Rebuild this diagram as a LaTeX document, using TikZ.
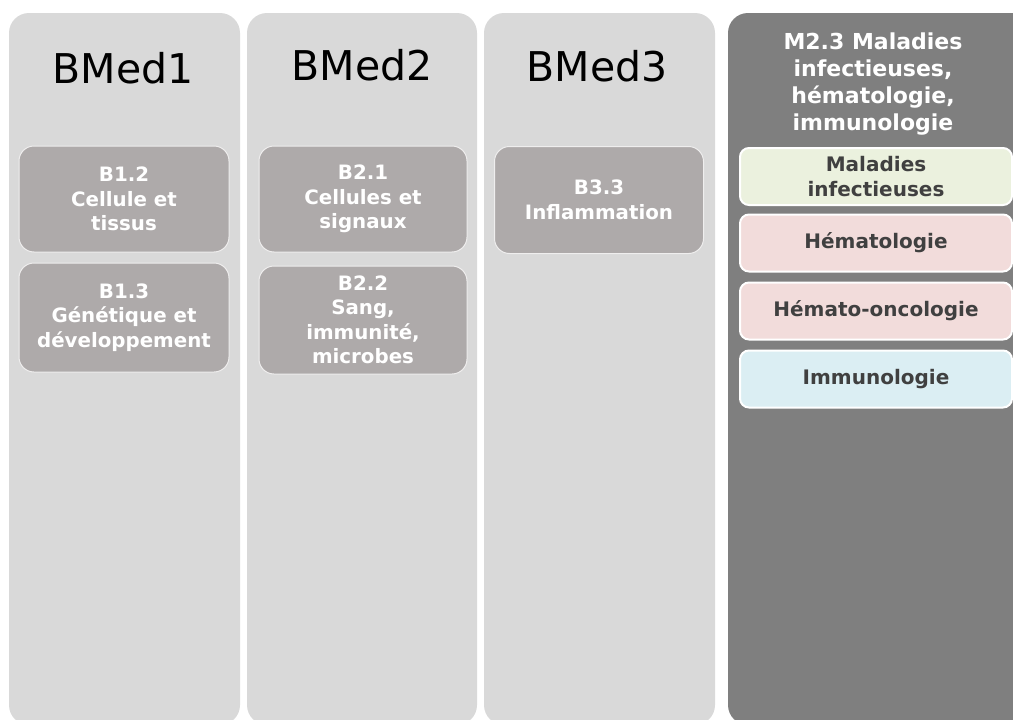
\documentclass[tikz,border=0pt]{standalone}
\usepackage{fontspec}
\setmainfont{DejaVu Sans}
\definecolor{colfill}{HTML}{D9D9D9}
\definecolor{colfilldark}{HTML}{7F7F7F}
\definecolor{boxfill}{HTML}{AEAAAA}
\definecolor{greenfill}{HTML}{EBF1DE}
\definecolor{pinkfill}{HTML}{F2DCDB}
\definecolor{bluefill}{HTML}{DBEEF3}
\definecolor{darktext}{HTML}{404040}
\tikzset{
  column/.style={fill=#1, draw=none, rounded corners=20pt, inner sep=0pt, minimum height=712pt},
  coltitle/.style={font=\fontsize{41}{48}\selectfont, text=black, anchor=base, inner sep=0pt},
  bbox/.style={fill=boxfill, draw=white!80!boxfill, line width=1pt, rounded corners=15pt,
    minimum width=210pt, align=center, text=white, inner sep=0pt,
    font=\fontsize{19.8}{24.5}\selectfont\bfseries},
  mbox/.style={fill=#1, draw=white, line width=2pt, rounded corners=9pt,
    minimum width=272pt, minimum height=57pt, align=center, text=darktext, inner sep=0pt,
    font=\fontsize{20}{24.5}\selectfont\bfseries},
}
\begin{document}
\begin{tikzpicture}[x=1pt,y=-1pt]
\useasboundingbox (0,0) rectangle (1013,720);
\begin{scope}
\clip (0,0) rectangle (1013,720);
% columns
\node[column=colfill, minimum width=231pt] (c1) at (124.5,369) {};
\node[column=colfill, minimum width=230pt] (c2) at (362,369) {};
\node[column=colfill, minimum width=231pt] (c3) at (599.5,369) {};
\node[column=colfilldark, minimum width=312pt] (c4) at (884,369) {};
% titles
\node[coltitle] (t1) at (123,83) {BMed1};
\node[coltitle] (t2) at (362,80) {BMed2};
\node[coltitle] (t3) at (597,81) {BMed3};
\node[align=center, text=white, inner sep=0pt, font=\fontsize{22}{26.7}\selectfont\bfseries] (t4) at (873,84) {M2.3 Maladies\\infectieuses,\\hématologie,\\immunologie};
% BMed boxes
\node[bbox, minimum height=106pt] (b12) at (124,199) {B1.2\\Cellule et\\tissus};
\node[bbox, minimum height=109pt] (b13) at (124,317.5) {B1.3\\Génétique et\\développement};
\node[bbox, minimum height=106pt, minimum width=208pt] (b21) at (363,199) {B2.1\\Cellules et\\signaux};
\node[bbox, minimum height=108pt, minimum width=208pt] (b22) at (363,320) {B2.2\\Sang,\\immunité,\\microbes};
\node[bbox, minimum height=107pt, minimum width=209pt] (b33) at (599,200) {B3.3\\Inflammation};
% M2.3 boxes
\node[mbox=greenfill] (m1) at (876,176.5) {Maladies\\infectieuses};
\node[mbox=pinkfill] (m2) at (876,243) {Hématologie};
\node[mbox=pinkfill] (m3) at (876,311) {Hémato-oncologie};
\node[mbox=bluefill] (m4) at (876,379) {Immunologie};
\end{scope}
\end{tikzpicture}
\end{document}
